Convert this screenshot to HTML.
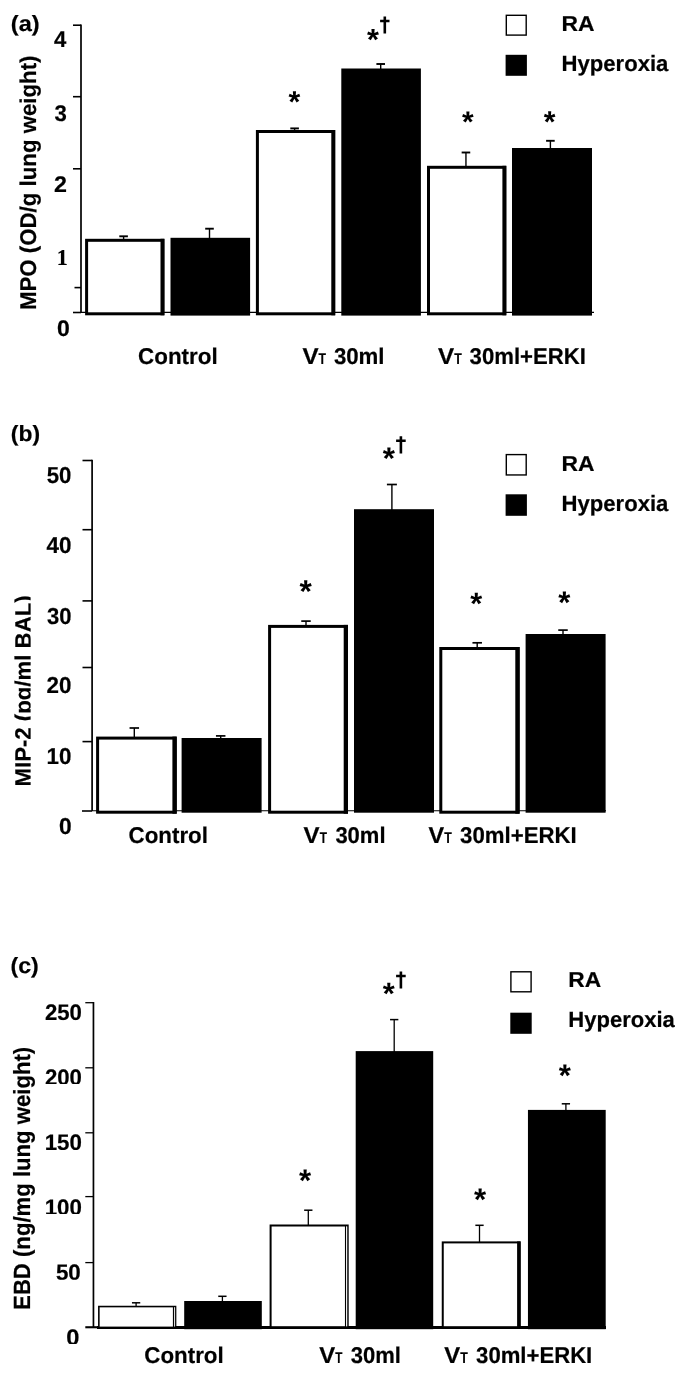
<!DOCTYPE html>
<html><head><meta charset="utf-8"><title>Figure</title>
<style>html,body{margin:0;padding:0;background:#fff}svg{display:block;will-change:transform}text{stroke:#000;stroke-width:0.2px;text-rendering:geometricPrecision;font-kerning:none}</style></head>
<body><svg width="685" height="1377" viewBox="0 0 685 1377">
<rect width="685" height="1377" fill="#fff"/>
<defs><clipPath id="clipb"><rect x="0" y="560" width="30.6" height="260"/></clipPath></defs>
<line x1="81.0" y1="24.4" x2="81.0" y2="312.5" stroke="#000" stroke-width="1.7"/>
<line x1="73" y1="25.2" x2="81.0" y2="25.2" stroke="#000" stroke-width="1.6"/>
<line x1="73" y1="96.7" x2="81.0" y2="96.7" stroke="#000" stroke-width="1.6"/>
<line x1="73" y1="168.8" x2="81.0" y2="168.8" stroke="#000" stroke-width="1.6"/>
<line x1="74.5" y1="287.6" x2="81.0" y2="287.6" stroke="#000" stroke-width="1.6"/>
<line x1="73" y1="312.5" x2="81.0" y2="312.5" stroke="#000" stroke-width="1.6"/>
<line x1="81.0" y1="312.4" x2="594" y2="312.4" stroke="#000" stroke-width="1.1"/>
<line x1="123.6" y1="236.3" x2="123.6" y2="239.8" stroke="#000" stroke-width="1.4"/>
<line x1="119.3" y1="236.3" x2="127.89999999999999" y2="236.3" stroke="#000" stroke-width="1.9"/>
<rect x="86.60" y="240.30" width="76.30" height="73.50" fill="#fff" stroke="#000" stroke-width="3"/>
<rect x="160.50" y="238.80" width="3.9" height="76.50" fill="#000"/>
<line x1="209.5" y1="228.7" x2="209.5" y2="238.8" stroke="#000" stroke-width="1.4"/>
<line x1="205.2" y1="228.7" x2="213.8" y2="228.7" stroke="#000" stroke-width="1.9"/>
<rect x="170.50" y="237.80" width="79.60" height="77.80" fill="#000"/>
<line x1="294.6" y1="128.4" x2="294.6" y2="131.0" stroke="#000" stroke-width="1.4"/>
<line x1="290.3" y1="128.4" x2="298.90000000000003" y2="128.4" stroke="#000" stroke-width="1.9"/>
<rect x="257.40" y="131.50" width="76.30" height="182.30" fill="#fff" stroke="#000" stroke-width="3"/>
<rect x="331.30" y="130.00" width="3.9" height="185.30" fill="#000"/>
<line x1="380.7" y1="64.0" x2="380.7" y2="69.5" stroke="#000" stroke-width="1.4"/>
<line x1="376.4" y1="64.0" x2="385.0" y2="64.0" stroke="#000" stroke-width="1.9"/>
<rect x="341.30" y="68.50" width="79.60" height="247.10" fill="#000"/>
<line x1="465.95" y1="152.5" x2="465.95" y2="166.8" stroke="#000" stroke-width="1.4"/>
<line x1="461.65" y1="152.5" x2="470.25" y2="152.5" stroke="#000" stroke-width="1.9"/>
<rect x="428.50" y="167.30" width="76.30" height="146.50" fill="#fff" stroke="#000" stroke-width="3"/>
<rect x="502.40" y="165.80" width="3.9" height="149.50" fill="#000"/>
<line x1="550.4" y1="140.8" x2="550.4" y2="149.0" stroke="#000" stroke-width="1.4"/>
<line x1="546.1" y1="140.8" x2="554.6999999999999" y2="140.8" stroke="#000" stroke-width="1.9"/>
<rect x="512.00" y="148.00" width="80.00" height="167.60" fill="#000"/>
<text x="288.58" y="111.86" font-family="Liberation Sans, sans-serif" font-weight="bold" font-size="30.25" style="stroke-width:0">*</text>
<text x="367.10" y="50.28" font-family="Liberation Sans, sans-serif" font-weight="bold" font-size="30.66" style="stroke-width:0">*</text>
<text x="462.05" y="132.35" font-family="Liberation Sans, sans-serif" font-weight="bold" font-size="29.92" style="stroke-width:0">*</text>
<text x="543.77" y="132.39" font-family="Liberation Sans, sans-serif" font-weight="bold" font-size="30.05" style="stroke-width:0">*</text>
<path d="M384.8 16.4V33.6M380.1 20.958H389.5" stroke="#000" stroke-width="2.6" fill="none"/>
<rect x="506.3" y="15.3" width="19.9" height="19.8" fill="#fff" stroke="#000" stroke-width="1.4"/>
<rect x="505.6" y="54.8" width="21.3" height="21.0" fill="#000"/>
<text x="561.47" y="31.2" font-family="Liberation Sans, sans-serif" font-weight="bold" font-size="21.5" textLength="33.03" lengthAdjust="spacingAndGlyphs">RA</text>
<text x="561.52" y="71.1" font-family="Liberation Sans, sans-serif" font-weight="bold" font-size="22.2" textLength="106.84" lengthAdjust="spacingAndGlyphs">Hyperoxia</text>
<text x="54.12" y="46.65" font-family="Liberation Sans, sans-serif" font-weight="bold" font-size="22.9" textLength="12.30" lengthAdjust="spacingAndGlyphs">4</text>
<text x="54.55" y="120.85" font-family="Liberation Sans, sans-serif" font-weight="bold" font-size="22.6" textLength="12.35" lengthAdjust="spacingAndGlyphs">3</text>
<text x="54.09" y="192.3" font-family="Liberation Sans, sans-serif" font-weight="bold" font-size="22.7" textLength="12.94" lengthAdjust="spacingAndGlyphs">2</text>
<text x="56.84" y="264.5" font-family="Liberation Serif, sans-serif" font-weight="bold" font-size="22.6" textLength="11.00" lengthAdjust="spacingAndGlyphs">1</text>
<text x="57.04" y="336.05" font-family="Liberation Sans, sans-serif" font-weight="bold" font-size="22.6" textLength="12.80" lengthAdjust="spacingAndGlyphs">0</text>
<text x="10.8" y="31.0" font-family="Liberation Sans, sans-serif" font-weight="bold" font-size="22" text-anchor="start" textLength="28.8" lengthAdjust="spacingAndGlyphs">(a)</text>
<g><text transform="translate(35.6,309.99) rotate(-90)" font-family="Liberation Sans, sans-serif" font-weight="bold" font-size="22.8" textLength="254.50" lengthAdjust="spacingAndGlyphs">MPO (OD/g lung weight)</text></g>
<text x="138.08" y="363.5" font-family="Liberation Sans, sans-serif" font-weight="bold" font-size="22.8" textLength="79.60" lengthAdjust="spacingAndGlyphs">Control</text>
<text x="302.43" y="363.5" font-family="Liberation Sans, sans-serif" font-weight="bold" font-size="22.8" textLength="16.13" lengthAdjust="spacingAndGlyphs">V</text>
<text x="318.56" y="363.5" font-family="Liberation Sans, sans-serif" font-weight="bold" font-size="15.6" textLength="7.47" lengthAdjust="spacingAndGlyphs">T</text>
<text x="333.89" y="363.5" font-family="Liberation Sans, sans-serif" font-weight="bold" font-size="22.8" textLength="50.68" lengthAdjust="spacingAndGlyphs">30ml</text>
<text x="438.13" y="363.5" font-family="Liberation Sans, sans-serif" font-weight="bold" font-size="22.8" textLength="16.13" lengthAdjust="spacingAndGlyphs">V</text>
<text x="454.36" y="363.5" font-family="Liberation Sans, sans-serif" font-weight="bold" font-size="15.6" textLength="7.57" lengthAdjust="spacingAndGlyphs">T</text>
<text x="469.59" y="363.5" font-family="Liberation Sans, sans-serif" font-weight="bold" font-size="22.8" textLength="116.29" lengthAdjust="spacingAndGlyphs">30ml+ERKI</text>
<line x1="92.1" y1="459.7" x2="92.1" y2="811" stroke="#000" stroke-width="1.7"/>
<line x1="82.5" y1="460.5" x2="92.1" y2="460.5" stroke="#000" stroke-width="1.6"/>
<line x1="82.5" y1="529.7" x2="92.1" y2="529.7" stroke="#000" stroke-width="1.6"/>
<line x1="82.5" y1="600.9" x2="92.1" y2="600.9" stroke="#000" stroke-width="1.6"/>
<line x1="82.5" y1="667.5" x2="92.1" y2="667.5" stroke="#000" stroke-width="1.6"/>
<line x1="82.5" y1="741.6" x2="92.1" y2="741.6" stroke="#000" stroke-width="1.6"/>
<line x1="82.0" y1="811" x2="92.1" y2="811" stroke="#000" stroke-width="1.6"/>
<line x1="92.1" y1="810.7" x2="606" y2="810.7" stroke="#000" stroke-width="1.1"/>
<line x1="134.3" y1="728" x2="134.3" y2="737.6" stroke="#000" stroke-width="1.4"/>
<line x1="129.55" y1="728" x2="139.05" y2="728" stroke="#000" stroke-width="1.7"/>
<rect x="97.60" y="738.10" width="77.60" height="74.10" fill="#fff" stroke="#000" stroke-width="3"/>
<rect x="172.40" y="736.60" width="4.3" height="77.10" fill="#000"/>
<line x1="220.7" y1="735.9" x2="220.7" y2="739" stroke="#000" stroke-width="1.4"/>
<line x1="215.95" y1="735.9" x2="225.45" y2="735.9" stroke="#000" stroke-width="1.7"/>
<rect x="181.60" y="738.00" width="80.00" height="74.70" fill="#000"/>
<line x1="306" y1="621.1" x2="306" y2="625.9" stroke="#000" stroke-width="1.4"/>
<line x1="301.25" y1="621.1" x2="310.75" y2="621.1" stroke="#000" stroke-width="1.7"/>
<rect x="269.60" y="626.40" width="76.90" height="185.80" fill="#fff" stroke="#000" stroke-width="3"/>
<rect x="343.70" y="624.90" width="4.3" height="188.80" fill="#000"/>
<line x1="391.9" y1="484.5" x2="391.9" y2="510.2" stroke="#000" stroke-width="1.4"/>
<line x1="386.9" y1="484.5" x2="396.9" y2="484.5" stroke="#000" stroke-width="1.7"/>
<rect x="354.00" y="509.20" width="80.00" height="303.50" fill="#000"/>
<line x1="477.2" y1="642.8" x2="477.2" y2="648.0" stroke="#000" stroke-width="1.4"/>
<line x1="472.45" y1="642.8" x2="481.95" y2="642.8" stroke="#000" stroke-width="1.7"/>
<rect x="440.80" y="648.50" width="77.30" height="163.70" fill="#fff" stroke="#000" stroke-width="3"/>
<rect x="515.30" y="647.00" width="4.3" height="166.70" fill="#000"/>
<line x1="563.0" y1="630.1" x2="563.0" y2="635.0" stroke="#000" stroke-width="1.4"/>
<line x1="558.25" y1="630.1" x2="567.75" y2="630.1" stroke="#000" stroke-width="1.7"/>
<rect x="525.60" y="634.00" width="80.00" height="178.70" fill="#000"/>
<text x="299.62" y="602.18" font-family="Liberation Sans, sans-serif" font-weight="bold" font-size="31.58" style="stroke-width:0">*</text>
<text x="382.68" y="468.79" font-family="Liberation Sans, sans-serif" font-weight="bold" font-size="31.31" style="stroke-width:0">*</text>
<text x="470.33" y="613.82" font-family="Liberation Sans, sans-serif" font-weight="bold" font-size="30.78" style="stroke-width:0">*</text>
<text x="558.15" y="612.75" font-family="Liberation Sans, sans-serif" font-weight="bold" font-size="31.18" style="stroke-width:0">*</text>
<path d="M400.9 436.2V453.4M396.1 440.758H405.7" stroke="#000" stroke-width="2.6" fill="none"/>
<rect x="506.3" y="454.6" width="19.9" height="20.35" fill="#fff" stroke="#000" stroke-width="1.4"/>
<rect x="505.6" y="494.3" width="21.3" height="21.5" fill="#000"/>
<text x="561.47" y="471.2" font-family="Liberation Sans, sans-serif" font-weight="bold" font-size="21.5" textLength="33.03" lengthAdjust="spacingAndGlyphs">RA</text>
<text x="561.52" y="511.4" font-family="Liberation Sans, sans-serif" font-weight="bold" font-size="22.2" textLength="106.84" lengthAdjust="spacingAndGlyphs">Hyperoxia</text>
<text x="46.72" y="483.35" font-family="Liberation Sans, sans-serif" font-weight="bold" font-size="23" textLength="24.69" lengthAdjust="spacingAndGlyphs">50</text>
<text x="46.46" y="552.55" font-family="Liberation Sans, sans-serif" font-weight="bold" font-size="23" textLength="24.96" lengthAdjust="spacingAndGlyphs">40</text>
<text x="46.89" y="624.05" font-family="Liberation Sans, sans-serif" font-weight="bold" font-size="23" textLength="24.51" lengthAdjust="spacingAndGlyphs">30</text>
<text x="46.52" y="693.2" font-family="Liberation Sans, sans-serif" font-weight="bold" font-size="23" textLength="24.89" lengthAdjust="spacingAndGlyphs">20</text>
<text x="46.49" y="764.1" font-family="Liberation Sans, sans-serif" font-weight="bold" font-size="23" textLength="24.93" lengthAdjust="spacingAndGlyphs">10</text>
<text x="59.07" y="833.75" font-family="Liberation Sans, sans-serif" font-weight="bold" font-size="23" textLength="12.66" lengthAdjust="spacingAndGlyphs">0</text>
<text x="10.8" y="441.2" font-family="Liberation Sans, sans-serif" font-weight="bold" font-size="22" text-anchor="start" textLength="29.2" lengthAdjust="spacingAndGlyphs">(b)</text>
<g clip-path="url(#clipb)"><text transform="translate(30.5,786.48) rotate(-90)" font-family="Liberation Sans, sans-serif" font-weight="bold" font-size="22.8" textLength="191.09" lengthAdjust="spacingAndGlyphs">MIP-2 (pg/ml BAL)</text></g>
<text x="128.58" y="843.1" font-family="Liberation Sans, sans-serif" font-weight="bold" font-size="22.8" textLength="79.40" lengthAdjust="spacingAndGlyphs">Control</text>
<text x="303.64" y="843.1" font-family="Liberation Sans, sans-serif" font-weight="bold" font-size="22.8" textLength="16.03" lengthAdjust="spacingAndGlyphs">V</text>
<text x="319.67" y="843.1" font-family="Liberation Sans, sans-serif" font-weight="bold" font-size="15.6" textLength="7.26" lengthAdjust="spacingAndGlyphs">T</text>
<text x="335.39" y="843.1" font-family="Liberation Sans, sans-serif" font-weight="bold" font-size="22.8" textLength="50.16" lengthAdjust="spacingAndGlyphs">30ml</text>
<text x="428.64" y="843.1" font-family="Liberation Sans, sans-serif" font-weight="bold" font-size="22.8" textLength="15.62" lengthAdjust="spacingAndGlyphs">V</text>
<text x="444.36" y="843.1" font-family="Liberation Sans, sans-serif" font-weight="bold" font-size="15.6" textLength="7.57" lengthAdjust="spacingAndGlyphs">T</text>
<text x="460.09" y="843.1" font-family="Liberation Sans, sans-serif" font-weight="bold" font-size="22.8" textLength="116.59" lengthAdjust="spacingAndGlyphs">30ml+ERKI</text>
<line x1="93.45" y1="1001.9" x2="93.45" y2="1327.55" stroke="#000" stroke-width="1.7"/>
<line x1="85.3" y1="1002.7" x2="93.45" y2="1002.7" stroke="#000" stroke-width="1.3"/>
<line x1="85.3" y1="1067.8" x2="93.45" y2="1067.8" stroke="#000" stroke-width="1.3"/>
<line x1="85.3" y1="1132.8" x2="93.45" y2="1132.8" stroke="#000" stroke-width="1.3"/>
<line x1="85.3" y1="1196.6" x2="93.45" y2="1196.6" stroke="#000" stroke-width="1.3"/>
<line x1="85.3" y1="1262.6" x2="93.45" y2="1262.6" stroke="#000" stroke-width="1.3"/>
<line x1="85.3" y1="1327.25" x2="98" y2="1327.25" stroke="#000" stroke-width="2.1"/>
<line x1="97" y1="1327.55" x2="606" y2="1327.55" stroke="#000" stroke-width="2.9"/>
<line x1="136.1" y1="1302.8" x2="136.1" y2="1306.75" stroke="#000" stroke-width="1.3"/>
<line x1="131.95" y1="1302.8" x2="140.25" y2="1302.8" stroke="#000" stroke-width="1.5"/>
<rect x="98.85" y="1306.55" width="76.70" height="20.85" fill="#fff" stroke="#000" stroke-width="1.6"/>
<line x1="222.4" y1="1296.3" x2="222.4" y2="1302.0" stroke="#000" stroke-width="1.3"/>
<line x1="218.25" y1="1296.3" x2="226.55" y2="1296.3" stroke="#000" stroke-width="1.5"/>
<rect x="184.20" y="1301.00" width="77.60" height="28.20" fill="#000"/>
<line x1="308.3" y1="1210.2" x2="308.3" y2="1225.5" stroke="#000" stroke-width="1.3"/>
<line x1="304.15000000000003" y1="1210.2" x2="312.45" y2="1210.2" stroke="#000" stroke-width="1.5"/>
<rect x="270.60" y="1225.50" width="77.10" height="101.70" fill="#fff" stroke="#000" stroke-width="2.0"/>
<line x1="394.2" y1="1019.6" x2="394.2" y2="1052.1" stroke="#000" stroke-width="1.3"/>
<line x1="390.05" y1="1019.6" x2="398.34999999999997" y2="1019.6" stroke="#000" stroke-width="1.5"/>
<rect x="355.70" y="1051.10" width="77.50" height="278.10" fill="#000"/>
<line x1="479.5" y1="1225.3" x2="479.5" y2="1242.4" stroke="#000" stroke-width="1.3"/>
<line x1="475.35" y1="1225.3" x2="483.65" y2="1225.3" stroke="#000" stroke-width="1.5"/>
<rect x="442.75" y="1242.40" width="76.85" height="84.80" fill="#fff" stroke="#000" stroke-width="2.0"/>
<line x1="565.9" y1="1103.8" x2="565.9" y2="1110.9" stroke="#000" stroke-width="1.3"/>
<line x1="561.75" y1="1103.8" x2="570.05" y2="1103.8" stroke="#000" stroke-width="1.5"/>
<rect x="527.95" y="1109.90" width="77.75" height="219.30" fill="#000"/>
<line x1="174.6" y1="1307.3" x2="174.6" y2="1326.2" stroke="#fff" stroke-width="0.9"/>
<line x1="173.5" y1="1306.5" x2="173.5" y2="1327" stroke="#000" stroke-width="1.2"/>
<line x1="346.65" y1="1226.5" x2="346.65" y2="1326.2" stroke="#fff" stroke-width="1.2"/>
<line x1="345.5" y1="1225.3" x2="345.5" y2="1327" stroke="#000" stroke-width="1.1"/>
<rect x="517.1" y="1241.4" width="3.5" height="86.6" fill="#000"/>
<text x="299.05" y="1191.15" font-family="Liberation Sans, sans-serif" font-weight="bold" font-size="31.18" style="stroke-width:0">*</text>
<text x="382.78" y="1003.82" font-family="Liberation Sans, sans-serif" font-weight="bold" font-size="30.77" style="stroke-width:0">*</text>
<text x="474.00" y="1210.25" font-family="Liberation Sans, sans-serif" font-weight="bold" font-size="31.18" style="stroke-width:0">*</text>
<text x="558.75" y="1085.85" font-family="Liberation Sans, sans-serif" font-weight="bold" font-size="31.18" style="stroke-width:0">*</text>
<path d="M400.9 971.5V988.4M396.1 975.9784999999999H405.7" stroke="#000" stroke-width="2.6" fill="none"/>
<rect x="510.9" y="971.8" width="20.2" height="20.0" fill="#fff" stroke="#000" stroke-width="1.4"/>
<rect x="510.3" y="1012.7" width="21.4" height="21.1" fill="#000"/>
<text x="568.28" y="987.1" font-family="Liberation Sans, sans-serif" font-weight="bold" font-size="21.5" textLength="32.87" lengthAdjust="spacingAndGlyphs">RA</text>
<text x="568.33" y="1026.8" font-family="Liberation Sans, sans-serif" font-weight="bold" font-size="22.2" textLength="106.43" lengthAdjust="spacingAndGlyphs">Hyperoxia</text>
<clipPath id="clipc"><rect x="40" y="1001.2" width="44" height="19.00"/><rect x="40" y="1066.2" width="44" height="17.90"/><rect x="40" y="1131.6" width="44" height="18.40"/><rect x="40" y="1195.8" width="44" height="18.30"/><rect x="40" y="1261.7" width="44" height="18.10"/><rect x="40" y="1326.0" width="44" height="17.90"/></clipPath>
<g clip-path="url(#clipc)">
<text x="44.93" y="1019.95" font-family="Liberation Sans, sans-serif" font-weight="bold" font-size="22.5" textLength="36.98" lengthAdjust="spacingAndGlyphs">250</text>
<text x="44.93" y="1084.95" font-family="Liberation Sans, sans-serif" font-weight="bold" font-size="22.5" textLength="36.98" lengthAdjust="spacingAndGlyphs">200</text>
<text x="44.69" y="1150.35" font-family="Liberation Sans, sans-serif" font-weight="bold" font-size="22.5" textLength="37.22" lengthAdjust="spacingAndGlyphs">150</text>
<text x="44.69" y="1214.55" font-family="Liberation Sans, sans-serif" font-weight="bold" font-size="22.5" textLength="37.22" lengthAdjust="spacingAndGlyphs">100</text>
<text x="55.91" y="1280.45" font-family="Liberation Sans, sans-serif" font-weight="bold" font-size="22.5" textLength="24.85" lengthAdjust="spacingAndGlyphs">50</text>
<text x="66.21" y="1344.75" font-family="Liberation Sans, sans-serif" font-weight="bold" font-size="22.5" textLength="13.16" lengthAdjust="spacingAndGlyphs">0</text>
</g>
<text x="10.5" y="973.3" font-family="Liberation Sans, sans-serif" font-weight="bold" font-size="22" text-anchor="start" textLength="28.2" lengthAdjust="spacingAndGlyphs">(c)</text>
<g><text transform="translate(29.5,1309.88) rotate(-90)" font-family="Liberation Sans, sans-serif" font-weight="bold" font-size="23.4" textLength="263.08" lengthAdjust="spacingAndGlyphs">EBD (ng/mg lung weight)</text></g>
<text x="144.28" y="1362.6" font-family="Liberation Sans, sans-serif" font-weight="bold" font-size="22.8" textLength="79.45" lengthAdjust="spacingAndGlyphs">Control</text>
<text x="319.34" y="1362.6" font-family="Liberation Sans, sans-serif" font-weight="bold" font-size="22.8" textLength="15.93" lengthAdjust="spacingAndGlyphs">V</text>
<text x="335.37" y="1362.6" font-family="Liberation Sans, sans-serif" font-weight="bold" font-size="15.6" textLength="7.16" lengthAdjust="spacingAndGlyphs">T</text>
<text x="350.69" y="1362.6" font-family="Liberation Sans, sans-serif" font-weight="bold" font-size="22.8" textLength="50.16" lengthAdjust="spacingAndGlyphs">30ml</text>
<text x="444.34" y="1362.6" font-family="Liberation Sans, sans-serif" font-weight="bold" font-size="22.8" textLength="15.93" lengthAdjust="spacingAndGlyphs">V</text>
<text x="460.36" y="1362.6" font-family="Liberation Sans, sans-serif" font-weight="bold" font-size="15.6" textLength="7.57" lengthAdjust="spacingAndGlyphs">T</text>
<text x="476.09" y="1362.6" font-family="Liberation Sans, sans-serif" font-weight="bold" font-size="22.8" textLength="116.19" lengthAdjust="spacingAndGlyphs">30ml+ERKI</text>
</svg></body></html>
